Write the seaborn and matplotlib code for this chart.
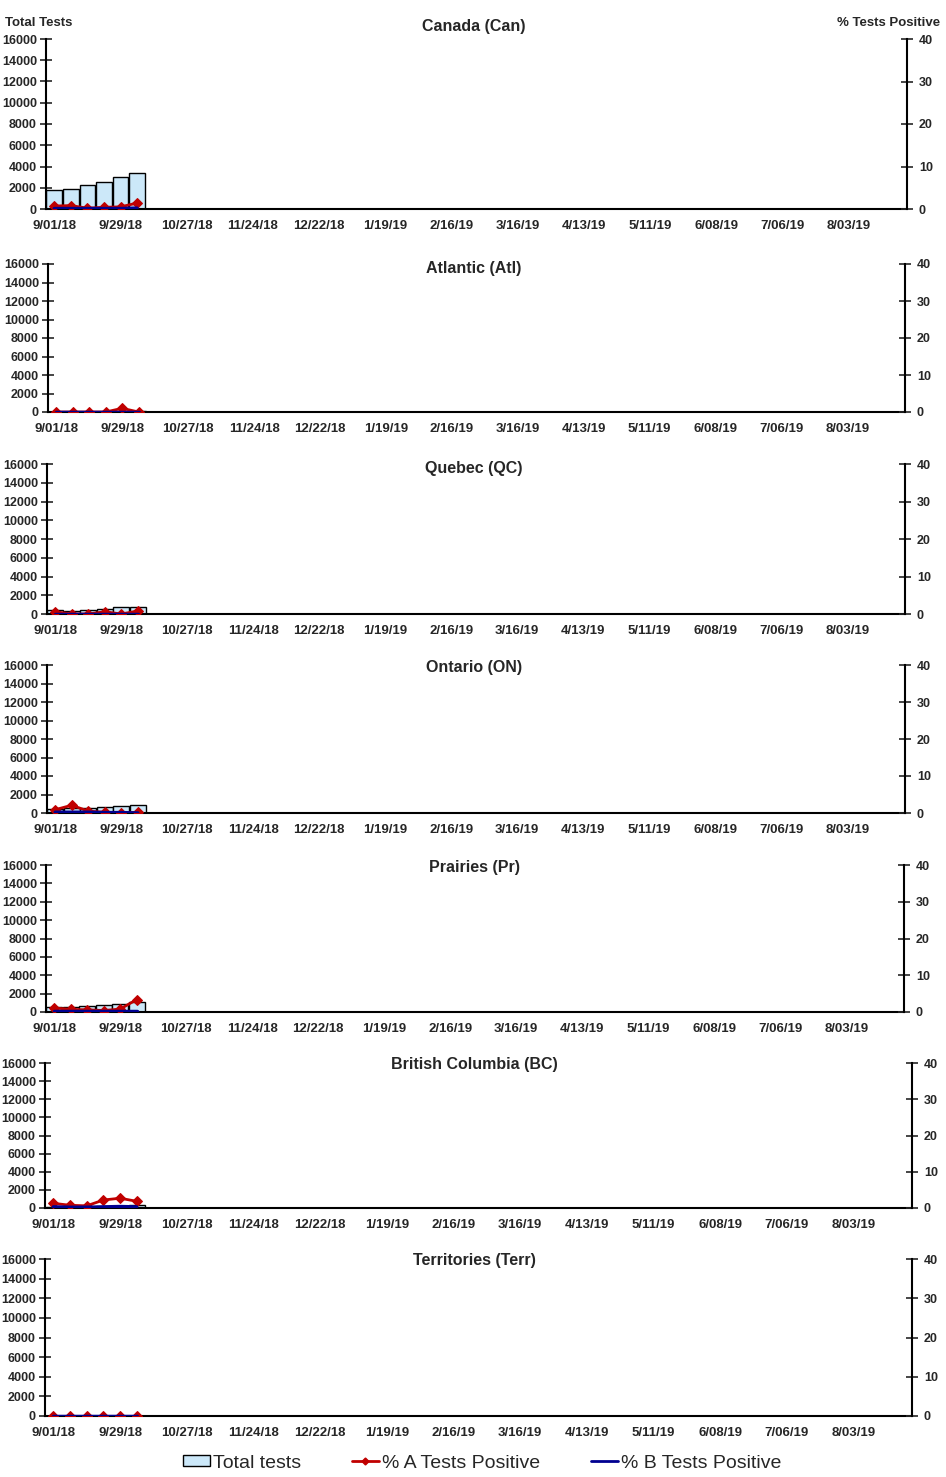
import matplotlib
matplotlib.use('Agg')
import matplotlib.pyplot as plt
import matplotlib.lines as mlines
import matplotlib.patches as mpatches
import seaborn as sns
import pandas as pd
import numpy as np

# week categories (52 surveillance weeks, 2018-19 season)
n_weeks = 52
tick_labels = ['9/01/18', '9/29/18', '10/27/18', '11/24/18', '12/22/18', '1/19/19',
               '2/16/19', '3/16/19', '4/13/19', '5/11/19', '6/08/19', '7/06/19', '8/03/19']

regions = ['Canada (Can)', 'Atlantic (Atl)', 'Quebec (QC)', 'Ontario (ON)',
           'Prairies (Pr)', 'British Columbia (BC)', 'Territories (Terr)']

# reported weeks so far (first 6 weeks)
can_total = [1750, 1850, 2250, 2500, 3000, 3350]
can_pct_a = [0.7, 0.8, 0.2, 0.4, 0.5, 1.4]
can_pct_b = [0.1, 0.1, 0.1, 0.1, 0.1, 0.2]

atl_total = [40, 40, 45, 50, 60, 60]
atl_pct_a = [0.0, 0.0, 0.0, 0.0, 1.0, 0.0]
atl_pct_b = [0.0, 0.0, 0.0, 0.0, 0.0, 0.0]

qc_total = [400, 350, 450, 550, 700, 750]
qc_pct_a = [0.6, 0.0, 0.0, 0.6, 0.0, 0.8]
qc_pct_b = [0.1, 0.1, 0.1, 0.1, 0.1, 0.1]

on_total = [450, 550, 550, 650, 800, 900]
on_pct_a = [0.9, 2.1, 0.5, 0.2, 0.0, 0.2]
on_pct_b = [0.2, 0.2, 0.2, 0.1, 0.1, 0.0]

pr_total = [500, 550, 650, 750, 850, 1050]
pr_pct_a = [1.1, 0.7, 0.6, 0.4, 0.8, 3.4]
pr_pct_b = [0.2, 0.2, 0.2, 0.2, 0.2, 0.2]

bc_total = [150, 150, 150, 200, 250, 300]
bc_pct_a = [1.3, 0.75, 0.6, 2.2, 2.7, 1.85]
bc_pct_b = [0.3, 0.2, 0.2, 0.3, 0.4, 0.3]

terr_total = [5, 5, 5, 5, 5, 5]
terr_pct_a = [0.0, 0.0, 0.0, 0.0, 0.0, 0.0]
terr_pct_b = [0.0, 0.0, 0.0, 0.0, 0.0, 0.0]

region_data = [
    (can_total, can_pct_a, can_pct_b),
    (atl_total, atl_pct_a, atl_pct_b),
    (qc_total, qc_pct_a, qc_pct_b),
    (on_total, on_pct_a, on_pct_b),
    (pr_total, pr_pct_a, pr_pct_b),
    (bc_total, bc_pct_a, bc_pct_b),
    (terr_total, terr_pct_a, terr_pct_b),
]

# panel pixel boxes: (left, right, top, bottom)
panel_px = [(46, 907, 39, 209), (48, 905, 264, 412), (47, 905, 464, 614),
            (47, 905, 665, 813), (46, 904, 865, 1012), (45, 912, 1063, 1208),
            (45, 912, 1259, 1416)]
title_px = [26, 268, 468, 668, 867, 1065, 1260]

W, H = 946, 1477
sns.set_style('white')
plt.rcParams['font.family'] = ['Liberation Sans', 'DejaVu Sans']

fig = plt.figure(figsize=(W / 100, H / 100), dpi=100)

bar_color = '#CCE8F9'
red = '#C00000'
navy = '#000090'
week_names = [str(i) for i in range(n_weeks)]

for idx, (name, (tot, pa, pb)) in enumerate(zip(regions, region_data)):
    l, r, t, b = panel_px[idx]
    ax = fig.add_axes([l / W, 1 - b / H, (r - l) / W, (b - t) / H])
    df = pd.DataFrame({'week': week_names[:len(tot)], 'total': tot})
    sns.barplot(data=df, x='week', y='total', order=week_names, ax=ax,
                color=bar_color, saturation=1, width=0.94,
                edgecolor='black', linewidth=1.0)
    ax.set_xlim(-0.5, n_weeks - 0.5)
    ax.set_ylim(0, 16000)
    ax.set_yticks(np.arange(0, 16001, 2000))
    ax.set_xticks(np.arange(0, n_weeks, 4))
    ax.set_xticklabels(tick_labels)
    ax.set_xticks(np.arange(-0.5, n_weeks, 1), minor=True)
    ax.tick_params(axis='x', which='major', length=0, pad=8, labelsize=9.5)
    ax.tick_params(axis='x', which='minor', direction='inout', length=9, width=1.2)
    ax.tick_params(axis='y', direction='inout', length=9, width=1.2, labelsize=9, pad=2)
    for lab in ax.get_xticklabels() + ax.get_yticklabels():
        lab.set_fontweight('bold')
    ax.set_xlabel('')
    ax.set_ylabel('')
    for s in ['left', 'bottom']:
        ax.spines[s].set_color('black')
        ax.spines[s].set_linewidth(1.5)
    ax.spines['top'].set_visible(False)
    ax.spines['right'].set_visible(False)

    ax2 = ax.twinx()
    ldf = pd.DataFrame({'x': np.arange(len(pa)), 'a': pa, 'b': pb})
    sns.lineplot(data=ldf, x='x', y='a', ax=ax2, color=red, linewidth=2.0,
                 marker='D', markersize=5.5, markeredgecolor=red, zorder=3)
    sns.lineplot(data=ldf, x='x', y='b', ax=ax2, color=navy, linewidth=2.5, zorder=4)
    ax2.set_ylim(0, 40)
    ax2.set_yticks([0, 10, 20, 30, 40])
    ax2.set_xlim(-0.5, n_weeks - 0.5)
    ax2.set_xlabel('')
    ax2.set_ylabel('')
    ax2.tick_params(axis='y', direction='inout', length=9, width=1.2, labelsize=9, pad=4)
    for lab in ax2.get_yticklabels():
        lab.set_fontweight('bold')
    ax2.spines['top'].set_visible(False)
    ax2.spines['left'].set_visible(False)
    ax2.spines['bottom'].set_visible(False)
    ax2.spines['right'].set_color('black')
    ax2.spines['right'].set_linewidth(1.5)

    fig.text(474 / W, 1 - title_px[idx] / H, name, ha='center', va='center',
             fontsize=11.5, fontweight='bold')

fig.text(5 / W, 1 - 23 / H, 'Total Tests', ha='left', va='center',
         fontsize=9.5, fontweight='bold')
fig.text(940 / W, 1 - 23 / H, '% Tests Positive', ha='right', va='center',
         fontsize=9.5, fontweight='bold')

handles = [
    mpatches.Patch(facecolor=bar_color, edgecolor='black', linewidth=1),
    mlines.Line2D([], [], color=red, linewidth=2, marker='D', markersize=3.5),
    mlines.Line2D([], [], color=navy, linewidth=2),
]
fig.legend(handles, ['Total tests', '% A Tests Positive', '% B Tests Positive'],
           loc='center', bbox_to_anchor=(482 / W, 1 - 1463 / H), ncol=3,
           frameon=False, fontsize=14, handlelength=1.4, handleheight=0.5,
           handletextpad=0.15, columnspacing=2.6)

fig.savefig('out.png', dpi=100)
